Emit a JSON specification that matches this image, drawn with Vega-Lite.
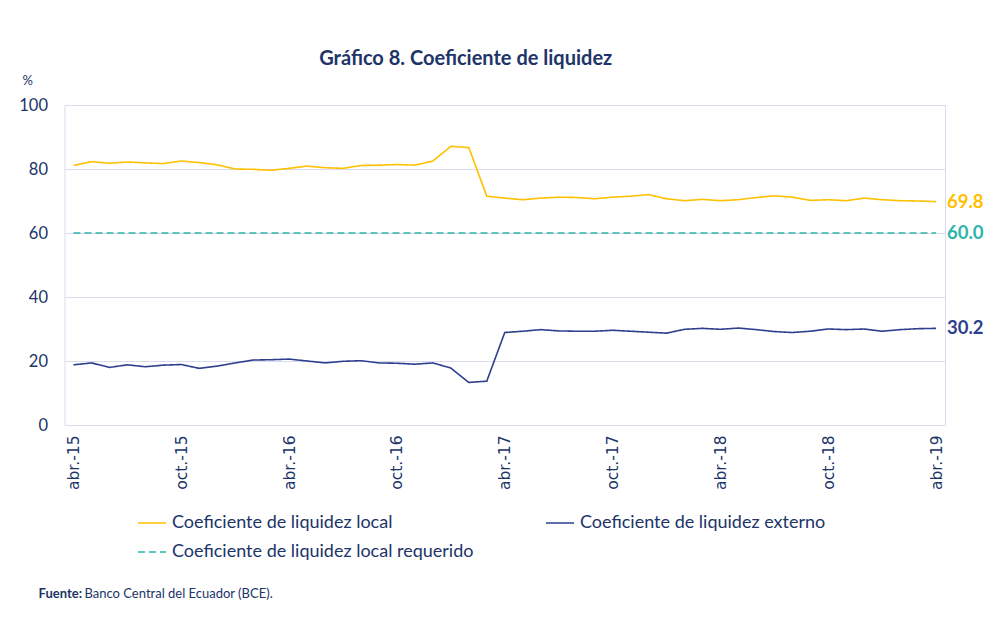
{
  "$schema": "https://vega.github.io/schema/vega-lite/v6.json",
  "width": 880.5,
  "height": 320,
  "autosize": {"type": "none"},
  "padding": {"left": 64.5, "top": 105, "right": 49, "bottom": 196},
  "background": "white",
  "title": {"text": "Gráfico 8. Coeficiente de liquidez", "font": "Lato", "fontSize": 20, "fontWeight": "bold", "color": "#203468", "anchor": "middle", "dx": -39, "offset": 5},
  "config": {"view": {"stroke": "#D9DBEE", "strokeWidth": 1}, "font": "Lato"},
  "data": {"values": [
    {"mes": "abr.-15", "local": 81.1, "externo": 18.8, "requerido": 60},
    {"mes": "may.-15", "local": 82.3, "externo": 19.4, "requerido": 60},
    {"mes": "jun.-15", "local": 81.8, "externo": 18.0, "requerido": 60},
    {"mes": "jul.-15", "local": 82.2, "externo": 18.8, "requerido": 60},
    {"mes": "ago.-15", "local": 81.9, "externo": 18.2, "requerido": 60},
    {"mes": "sep.-15", "local": 81.7, "externo": 18.7, "requerido": 60},
    {"mes": "oct.-15", "local": 82.5, "externo": 18.9, "requerido": 60},
    {"mes": "nov.-15", "local": 82.0, "externo": 17.7, "requerido": 60},
    {"mes": "dic.-15", "local": 81.3, "externo": 18.4, "requerido": 60},
    {"mes": "ene.-16", "local": 80.0, "externo": 19.4, "requerido": 60},
    {"mes": "feb.-16", "local": 79.9, "externo": 20.3, "requerido": 60},
    {"mes": "mar.-16", "local": 79.6, "externo": 20.4, "requerido": 60},
    {"mes": "abr.-16", "local": 80.2, "externo": 20.6, "requerido": 60},
    {"mes": "may.-16", "local": 80.9, "externo": 20.0, "requerido": 60},
    {"mes": "jun.-16", "local": 80.4, "externo": 19.4, "requerido": 60},
    {"mes": "jul.-16", "local": 80.2, "externo": 19.9, "requerido": 60},
    {"mes": "ago.-16", "local": 81.1, "externo": 20.1, "requerido": 60},
    {"mes": "sep.-16", "local": 81.2, "externo": 19.4, "requerido": 60},
    {"mes": "oct.-16", "local": 81.4, "externo": 19.3, "requerido": 60},
    {"mes": "nov.-16", "local": 81.2, "externo": 19.0, "requerido": 60},
    {"mes": "dic.-16", "local": 82.5, "externo": 19.4, "requerido": 60},
    {"mes": "ene.-17", "local": 87.1, "externo": 17.8, "requerido": 60},
    {"mes": "feb.-17", "local": 86.7, "externo": 13.3, "requerido": 60},
    {"mes": "mar.-17", "local": 71.5, "externo": 13.7, "requerido": 60},
    {"mes": "abr.-17", "local": 70.9, "externo": 28.9, "requerido": 60},
    {"mes": "may.-17", "local": 70.4, "externo": 29.3, "requerido": 60},
    {"mes": "jun.-17", "local": 70.9, "externo": 29.8, "requerido": 60},
    {"mes": "jul.-17", "local": 71.2, "externo": 29.4, "requerido": 60},
    {"mes": "ago.-17", "local": 71.1, "externo": 29.3, "requerido": 60},
    {"mes": "sep.-17", "local": 70.7, "externo": 29.3, "requerido": 60},
    {"mes": "oct.-17", "local": 71.2, "externo": 29.6, "requerido": 60},
    {"mes": "nov.-17", "local": 71.5, "externo": 29.3, "requerido": 60},
    {"mes": "dic.-17", "local": 72.0, "externo": 29.0, "requerido": 60},
    {"mes": "ene.-18", "local": 70.7, "externo": 28.7, "requerido": 60},
    {"mes": "feb.-18", "local": 70.1, "externo": 29.9, "requerido": 60},
    {"mes": "mar.-18", "local": 70.5, "externo": 30.2, "requerido": 60},
    {"mes": "abr.-18", "local": 70.1, "externo": 29.9, "requerido": 60},
    {"mes": "may.-18", "local": 70.4, "externo": 30.3, "requerido": 60},
    {"mes": "jun.-18", "local": 71.1, "externo": 29.8, "requerido": 60},
    {"mes": "jul.-18", "local": 71.6, "externo": 29.2, "requerido": 60},
    {"mes": "ago.-18", "local": 71.2, "externo": 28.9, "requerido": 60},
    {"mes": "sep.-18", "local": 70.2, "externo": 29.3, "requerido": 60},
    {"mes": "oct.-18", "local": 70.4, "externo": 30.0, "requerido": 60},
    {"mes": "nov.-18", "local": 70.1, "externo": 29.8, "requerido": 60},
    {"mes": "dic.-18", "local": 70.9, "externo": 30.0, "requerido": 60},
    {"mes": "ene.-19", "local": 70.4, "externo": 29.3, "requerido": 60},
    {"mes": "feb.-19", "local": 70.1, "externo": 29.8, "requerido": 60},
    {"mes": "mar.-19", "local": 70.0, "externo": 30.1, "requerido": 60},
    {"mes": "abr.-19", "local": 69.8, "externo": 30.2, "requerido": 60}
  ]},
  "transform": [{"fold": ["local", "externo", "requerido"], "as": ["serie", "valor"]}],
  "layer": [
    {
      "mark": {"type": "line"},
      "encoding": {
        "x": {
          "field": "mes", "type": "ordinal", "sort": null,
          "scale": {"type": "point", "padding": 0.5},
          "axis": {
            "values": ["abr.-15", "oct.-15", "abr.-16", "oct.-16", "abr.-17", "oct.-17", "abr.-18", "oct.-18", "abr.-19"],
            "labelAngle": -90, "ticks": false, "domain": true, "domainColor": "#D9DBEE", "grid": false,
            "labelFont": "DejaVu Sans", "labelFontSize": 15.5, "labelColor": "#203468", "labelPadding": 10,
            "title": "Fuente:", "titleFont": "Lato", "titleFontSize": 13, "titleFontWeight": "bold", "titleColor": "#203468",
            "titleX": -26.5, "titleY": 172, "titleAlign": "left", "titleBaseline": "alphabetic", "titleAnchor": "start"
          }
        },
        "y": {
          "field": "valor", "type": "quantitative",
          "scale": {"domain": [0, 100]},
          "axis": {
            "values": [0, 20, 40, 60, 80, 100], "domain": false, "ticks": false, "grid": true, "gridColor": "#D9DBEE",
            "labelFont": "Lato", "labelFontSize": 16.5, "labelColor": "#203468", "labelPadding": 17,
            "title": "%", "titleAngle": 0, "titleAlign": "left", "titleBaseline": "middle", "titleX": -42.5, "titleY": -25,
            "titleFont": "Lato", "titleFontSize": 13, "titleFontWeight": "normal", "titleColor": "#203468"
          }
        },
        "color": {
          "field": "serie", "type": "nominal",
          "scale": {"domain": ["local", "externo", "requerido"], "range": ["#FFC000", "#2E3F8E", "#2DB5AC"]},
          "legend": {
            "orient": "none", "legendX": 72.5, "legendY": 403, "columns": 2, "direction": "horizontal", "title": null,
            "symbolType": "stroke", "symbolSize": 784, "symbolStrokeWidth": 2,
            "labelFont": "Lato", "labelFontSize": 18, "labelColor": "#203468", "labelOffset": 5, "labelLimit": 500,
            "columnPadding": 68, "rowPadding": 5, "padding": 0,
            "labelExpr": "datum.label === 'local' ? 'Coeficiente de liquidez local' : datum.label === 'externo' ? 'Coeficiente de liquidez externo' : 'Coeficiente de liquidez local requerido'"
          }
        },
        "strokeDash": {
          "field": "serie", "type": "nominal",
          "scale": {"domain": ["local", "externo", "requerido"], "range": [[1, 0], [1, 0], [7, 4]]}
        },
        "strokeWidth": {
          "field": "serie", "type": "nominal",
          "scale": {"domain": ["local", "externo", "requerido"], "range": [1.6, 1.6, 3]},
          "legend": null
        }
      }
    },
    {
      "transform": [{"filter": "datum.mes === 'abr.-19'"}],
      "mark": {"type": "text", "align": "left", "baseline": "middle", "dx": 11, "font": "Lato", "fontSize": 18.5, "fontWeight": "bold"},
      "encoding": {
        "x": {
          "field": "mes", "type": "ordinal", "sort": null,
          "axis": {
            "orient": "bottom", "labels": false, "ticks": false, "domain": false, "grid": false,
            "title": "Banco Central del Ecuador (BCE).", "titleFont": "Lato", "titleFontSize": 13, "titleFontWeight": "normal", "titleColor": "#203468",
            "titleX": 19.5, "titleY": 172, "titleAlign": "left", "titleBaseline": "alphabetic", "titleAnchor": "start"
          }
        },
        "y": {"field": "valor", "type": "quantitative"},
        "text": {"field": "valor", "type": "quantitative", "format": ".1f"},
        "color": {
          "condition": [
            {"test": "datum.serie === 'local'", "value": "#FFC000"},
            {"test": "datum.serie === 'requerido'", "value": "#2DB5AC"}
          ],
          "value": "#2E3F8E"
        }
      }
    }
  ],
  "resolve": {"axis": {"x": "independent"}}
}
